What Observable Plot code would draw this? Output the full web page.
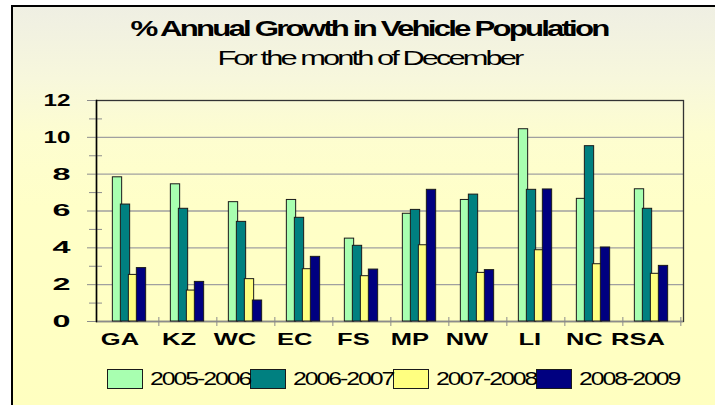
<!DOCTYPE html>
<html><head><meta charset="utf-8">
<script src="https://cdn.jsdelivr.net/npm/d3@7"></script>
<script src="https://cdn.jsdelivr.net/npm/@observablehq/plot@0.6"></script>
<style>
html,body{margin:0;padding:0;background:#fff;overflow:hidden;width:715px;height:405px;}
#chart{position:absolute;left:11px;top:5px;width:702px;height:398px;border-left:2px solid #000;border-top:2px solid #000;
  background:linear-gradient(to bottom,#efefe3 0%,#f7f7dc 18%,#fdfdd0 32%,#ffffc8 50%,#ffffc0 100%);
  font-family:"Liberation Sans",Arial,sans-serif;color:#000;}
.t{position:absolute;left:0;width:712px;text-align:center;white-space:nowrap;}
.t span{display:inline-block;transform-origin:50% 50%;}
#title{top:11px;font-size:22px;font-weight:bold;line-height:22px;}
#title span{letter-spacing:-2px;transform:scaleX(1.42);}
#sub{top:40px;font-size:21px;line-height:21px;}
#sub span{letter-spacing:-2px;transform:scaleX(1.47);}
.layer{position:absolute;left:0;top:63px;width:702px;}
#legend{position:absolute;top:362px;left:94px;display:flex;align-items:center;}
.item{display:flex;align-items:center;}
.sw{width:34px;height:18px;border:1px solid #1a1a1a;}
.lab{width:100px;margin-left:7px;font-size:18px;line-height:20px;white-space:nowrap;}
.lab span{display:inline-block;letter-spacing:-1.5px;transform:scaleX(1.38);transform-origin:0 50%;}
</style>
</head><body>
<div id="chart">
  <div class="t" id="title"><span>% Annual Growth in Vehicle Population</span></div>
  <div class="t" id="sub"><span>For the month of December</span></div>
  <div class="layer" id="grid"></div>
  <div class="layer" id="plot"></div>
  <div id="legend"></div>
</div>
<script>
const categories = ["GA","KZ","WC","EC","FS","MP","NW","LI","NC","RSA"];
const seriesNames = ["2005-2006","2006-2007","2007-2008","2008-2009"];
const s2005_2006 = [7.83,7.45,6.48,6.60,4.50,5.85,6.60,10.44,6.66,7.18];
const s2006_2007 = [6.35,6.12,5.41,5.63,4.11,6.06,6.89,7.15,9.52,6.12];
const s2007_2008 = [2.53,1.68,2.30,2.84,2.46,4.14,2.64,3.87,3.11,2.59];
const s2008_2009 = [2.90,2.15,1.14,3.51,2.82,7.15,2.79,7.17,4.02,3.02];
const yTicks = [0,2,4,6,8,10,12];
const yMinorTicks = [1,3,5,7,9,11];
const colors = ["#a8ffb0","#008080","#ffff80","#000080"];

const seriesValues = [s2005_2006, s2006_2007, s2007_2008, s2008_2009];
const data = categories.flatMap((c, i) => seriesNames.map((s, j) => ({category: c, series: s, value: seriesValues[j][i]})));

const W = 702, H = 291, mL = 83, mR = 32, mT = 30, mB = 40;
const step = (W - mL - mR) / categories.length;   // width of one category band
const groupFrac = 0.545;                            // share of the band used by a cluster
const groupW = step * groupFrac;
const sub = groupW / seriesNames.length;
const edge = (step - groupW) / 2;
const overlap = 1;                                  // bars overlap their neighbours slightly
const fontFamily = "Liberation Sans, Arial, sans-serif";

// layer 1: gridlines and plot-area border only
const gridPlot = Plot.plot({
  width: W, height: H, marginLeft: mL, marginRight: mR, marginTop: mT, marginBottom: mB,
  style: {background: "transparent", overflow: "visible", color: "#000"},
  x: {type: "band", domain: categories, padding: 0, axis: null},
  y: {domain: [0, 12], axis: null},
  marks: [
    Plot.ruleY(yTicks.slice(1, -1), {stroke: "#a0a0a0", strokeWidth: 1.3}),
    Plot.frame({stroke: "#333", strokeWidth: 1.3}),
    Plot.ruleY([0], {stroke: "#8c8c8c", strokeWidth: 1.3})
  ]
});
document.getElementById("grid").appendChild(gridPlot);

// layer 2: bars, axes and labels
const barMarks = seriesNames.map((s, j) =>
  Plot.barY(data.filter(d => d.series === s), {
    x: "category", y: "value", fill: "series", stroke: "#1a1a1a", strokeWidth: 1,
    insetLeft: edge + sub * j - overlap,
    insetRight: step - (edge + sub * (j + 1)) - overlap
  })
);

const chart = Plot.plot({
  width: W, height: H, marginLeft: mL, marginRight: mR, marginTop: mT, marginBottom: mB,
  style: {background: "transparent", fontFamily, overflow: "visible", color: "#000"},
  x: {type: "band", domain: categories, padding: 0, axis: null},
  y: {domain: [0, 12], axis: null},
  color: {domain: seriesNames, range: colors},
  marks: [
    ...barMarks,
    Plot.axisY({ticks: yTicks, tickSize: 9, tickPadding: 17, fontSize: 17, fontWeight: "bold", stroke: "#8c8c8c", label: null, tickFormat: d => String(d)}),
    Plot.axisY({ticks: yMinorTicks, tickSize: 13, text: null, dx: 6, stroke: "#8c8c8c", label: null}),
    Plot.axisX({tickSize: 0, tickPadding: 11, fontSize: 17, fontWeight: "bold", label: null}),
    Plot.axisX({text: null, tickSize: 9, dx: step / 2, dy: -4, stroke: "#8c8c8c", label: null}),
    Plot.frame({anchor: "left", stroke: "#000", strokeWidth: 1.5})
  ]
});
document.getElementById("plot").appendChild(chart);

// stretch tick labels like the original rendering
chart.querySelectorAll('g[aria-label="y-axis tick label"] text').forEach(t => {
  const n = t.textContent.length;
  t.setAttribute("textLength", 9 * (n + 1));
  t.setAttribute("lengthAdjust", "spacingAndGlyphs");
});
chart.querySelectorAll('g[aria-label="x-axis tick label"] text').forEach(t => {
  const L = t.getComputedTextLength() * 1.5;
  t.setAttribute("textLength", L);
  t.setAttribute("lengthAdjust", "spacingAndGlyphs");
  t.setAttribute("dx", -L / 4);
});

const legend = document.getElementById("legend");
seriesNames.forEach((s, j) => {
  const item = document.createElement("div");
  item.className = "item";
  const sw = document.createElement("div");
  sw.className = "sw";
  sw.style.background = colors[j];
  const lab = document.createElement("div");
  lab.className = "lab";
  const sp = document.createElement("span");
  sp.textContent = s;
  lab.appendChild(sp);
  item.appendChild(sw);
  item.appendChild(lab);
  legend.appendChild(item);
});
</script>
</body></html>
